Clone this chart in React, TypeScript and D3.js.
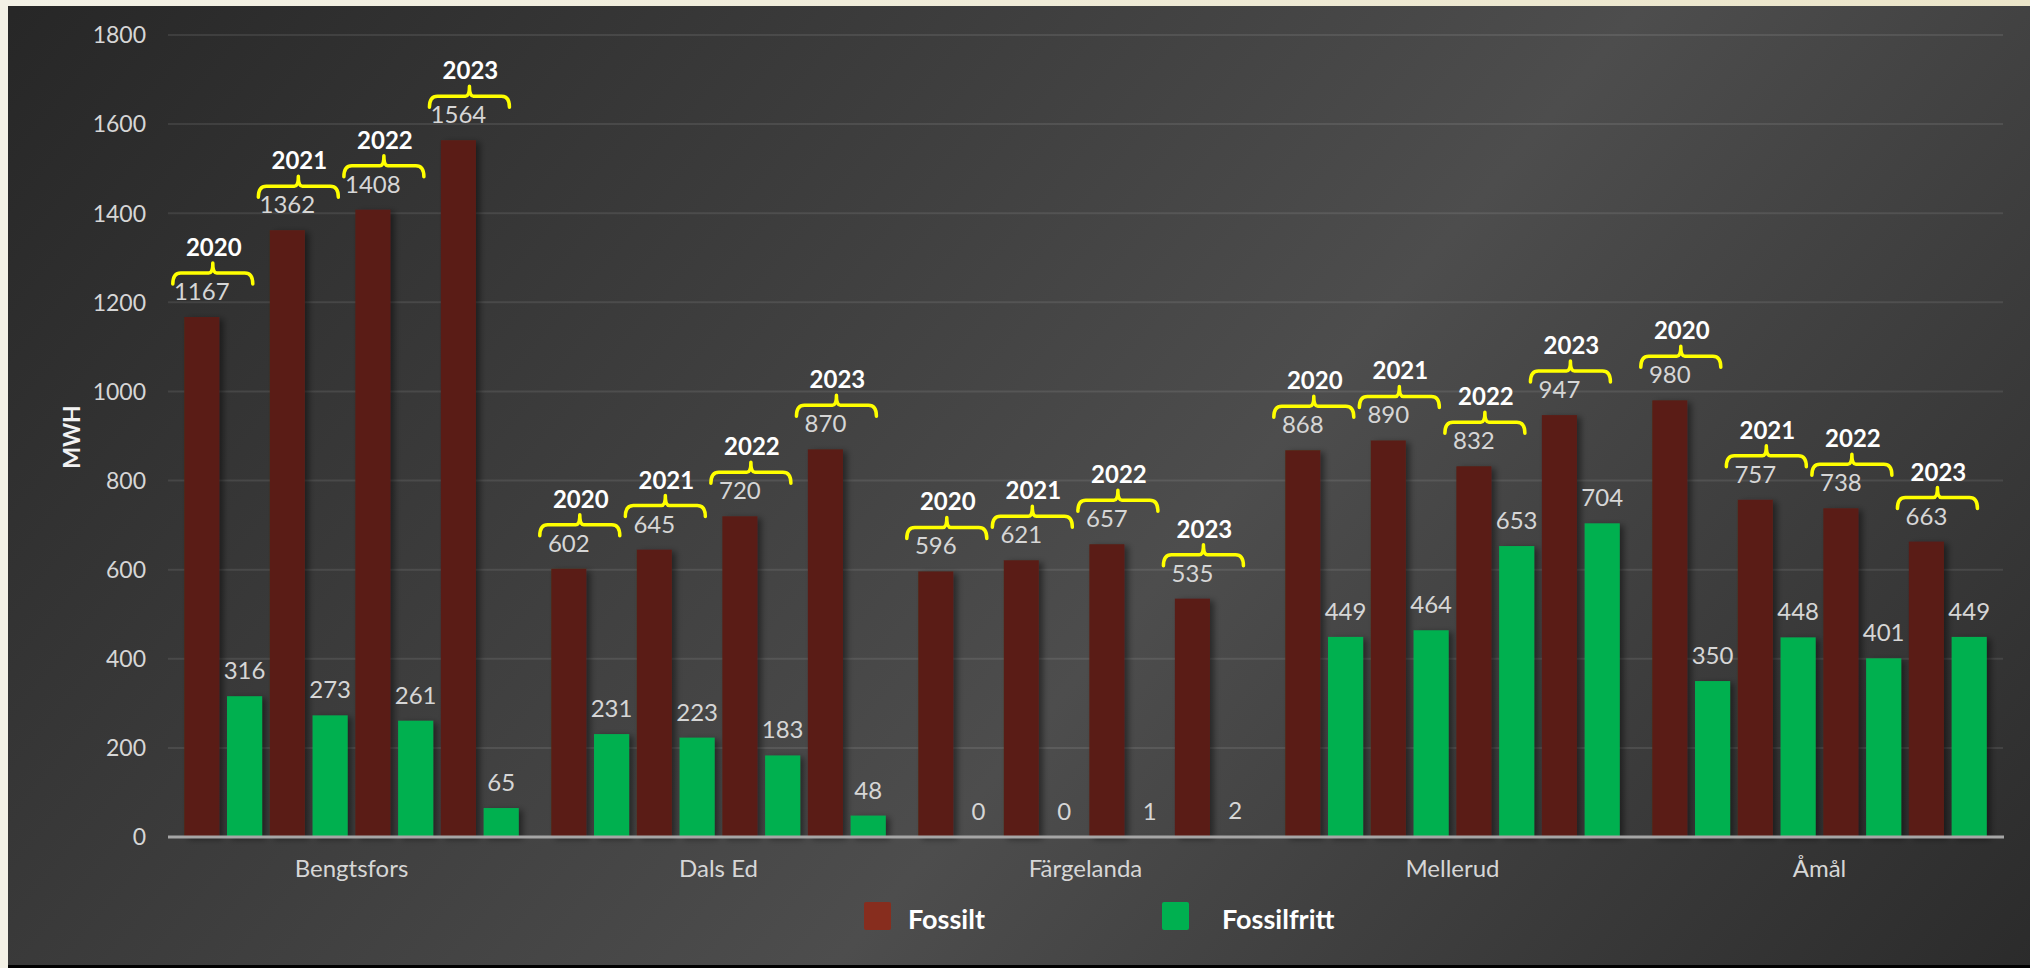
import React, { useEffect, useRef } from 'react';
import * as d3 from 'd3';

const municipalities = ['Bengtsfors', 'Dals Ed', 'Färgelanda', 'Mellerud', 'Åmål'];
const years = ['2020', '2021', '2022', '2023'];
const fossilt = [
  [1167, 1362, 1408, 1564],
  [602, 645, 720, 870],
  [596, 621, 657, 535],
  [868, 890, 832, 947],
  [980, 757, 738, 663],
];
const fossilfritt = [
  [316, 273, 261, 65],
  [231, 223, 183, 48],
  [0, 0, 1, 2],
  [449, 464, 653, 704],
  [350, 448, 401, 449],
];
const yTicks = [0, 200, 400, 600, 800, 1000, 1200, 1400, 1600, 1800];
const legendItems = ['Fossilt', 'Fossilfritt'];

const W = 2030;
const H = 968;
const BROWN = '#5a1f16';
const GREEN = '#00b050';
const LABEL = '#d6d6d6';
const FONT = 'Lato, "Open Sans", sans-serif';

const App = () => {
  const svgRef = useRef<SVGSVGElement>(null);

  useEffect(() => {
    const svg = d3.select(svgRef.current);
    svg.selectAll('*').remove();
    svg.attr('width', W).attr('height', H);

    const defs = svg.append('defs');
    const grad = defs.append('linearGradient')
      .attr('id', 'bg')
      .attr('gradientUnits', 'userSpaceOnUse')
      .attr('x1', 150).attr('y1', -150)
      .attr('x2', 2050).attr('y2', 1450);
    grad.append('stop').attr('offset', 0).attr('stop-color', '#272727');
    grad.append('stop').attr('offset', 0.5).attr('stop-color', '#4d4d4d');
    grad.append('stop').attr('offset', 1).attr('stop-color', '#1f1f1f');

    const top = defs.append('linearGradient').attr('id', 'cream');
    top.append('stop').attr('offset', 0).attr('stop-color', '#f3f1e6');
    top.append('stop').attr('offset', 1).attr('stop-color', '#ebe5c9');

    const shadow = defs.append('filter').attr('id', 'shadow')
      .attr('x', '-30%').attr('y', '-10%').attr('width', '160%').attr('height', '120%');
    shadow.append('feDropShadow')
      .attr('dx', 4).attr('dy', 2).attr('stdDeviation', 3)
      .attr('flood-color', '#000').attr('flood-opacity', 0.45);

    // page + panel
    svg.append('rect').attr('width', W).attr('height', H).attr('fill', 'url(#cream)');
    svg.append('rect').attr('x', 8).attr('y', 6).attr('width', W - 8).attr('height', H - 6).attr('fill', '#000');
    svg.append('rect').attr('x', 8).attr('y', 6).attr('width', W - 8).attr('height', 959).attr('fill', 'url(#bg)');

    const x0 = d3.scaleBand<string>().domain(municipalities).range([168, 2003]);
    const keys = years.flatMap(yr => [`F${yr}`, `G${yr}`]);
    const x1 = d3.scaleBand<string>().domain(keys).range([0, x0.bandwidth()])
      .paddingInner(0.18).paddingOuter(0.38);
    const y = d3.scaleLinear().domain([0, 1800]).range([837, 35]);

    // grid
    svg.append('g').selectAll('line')
      .data(yTicks.filter(t => t > 0))
      .enter().append('line')
      .attr('x1', 168).attr('x2', 2003)
      .attr('y1', d => y(d)).attr('y2', d => y(d))
      .attr('stroke', '#ffffff').attr('stroke-opacity', 0.09).attr('stroke-width', 2);

    // y tick labels
    svg.append('g').selectAll('text')
      .data(yTicks)
      .enter().append('text')
      .attr('x', 146).attr('y', d => y(d)).attr('dy', '0.36em')
      .attr('text-anchor', 'end')
      .attr('font-family', FONT).attr('font-size', 23).attr('fill', LABEL)
      .text(d => d);

    svg.append('text')
      .attr('transform', 'translate(80,437) rotate(-90)')
      .attr('text-anchor', 'middle')
      .attr('font-family', FONT).attr('font-weight', 700).attr('font-size', 23)
      .attr('fill', '#f2f2f2')
      .text('MWH');

    type Bar = { m: string; key: string; v: number; color: string; year: string; fossil: boolean };
    const bars: Bar[] = [];
    municipalities.forEach((m, i) => {
      years.forEach((yr, j) => {
        bars.push({ m, key: `F${yr}`, v: fossilt[i][j], color: BROWN, year: yr, fossil: true });
        bars.push({ m, key: `G${yr}`, v: fossilfritt[i][j], color: GREEN, year: yr, fossil: false });
      });
    });
    const cx = (d: Bar) => (x0(d.m) ?? 0) + (x1(d.key) ?? 0) + x1.bandwidth() / 2;

    svg.append('g').attr('filter', 'url(#shadow)').selectAll('rect')
      .data(bars)
      .enter().append('rect')
      .attr('x', d => (x0(d.m) ?? 0) + (x1(d.key) ?? 0))
      .attr('width', x1.bandwidth())
      .attr('y', d => y(d.v))
      .attr('height', d => y(0) - y(d.v))
      .attr('fill', d => d.color);

    // x axis line
    svg.append('line')
      .attr('x1', 168).attr('x2', 2004).attr('y1', y(0)).attr('y2', y(0))
      .attr('stroke', '#a6a6a6').attr('stroke-width', 3);

    // value labels
    svg.append('g').selectAll('text')
      .data(bars)
      .enter().append('text')
      .attr('x', cx)
      .attr('y', d => y(d.v) - 17)
      .attr('text-anchor', 'middle')
      .attr('font-family', FONT).attr('font-size', 24).attr('fill', LABEL)
      .text(d => d.v);

    // year braces over fossil bars
    const notes = svg.append('g').selectAll('g')
      .data(bars.filter(d => d.fossil))
      .enter().append('g')
      .attr('transform', d => `translate(${cx(d) + 11},${y(d.v) - 17 - 27})`);
    notes.append('path')
      .attr('d', 'M-40,11 Q-40,0 -32,0 L-4,0 Q0,0 0,-10 Q0,0 4,0 L32,0 Q40,0 40,11')
      .attr('fill', 'none').attr('stroke', '#ffff00').attr('stroke-width', 3.5)
      .attr('stroke-linecap', 'round').attr('stroke-linejoin', 'round');
    notes.append('text')
      .attr('x', 1).attr('y', -17)
      .attr('text-anchor', 'middle')
      .attr('font-family', FONT).attr('font-weight', 700).attr('font-size', 24)
      .attr('fill', '#ffffff')
      .text(d => d.year);

    // category labels
    svg.append('g').selectAll('text')
      .data(municipalities)
      .enter().append('text')
      .attr('x', d => (x0(d) ?? 0) + x0.bandwidth() / 2)
      .attr('y', 877)
      .attr('text-anchor', 'middle')
      .attr('font-family', FONT).attr('font-size', 24).attr('fill', LABEL)
      .text(d => d);

    // legend
    const legendX = [864, 1162];
    const legendColor = ['#872d1e', GREEN];
    const lg = svg.append('g').selectAll('g')
      .data(legendItems)
      .enter().append('g')
      .attr('transform', (_d, i) => `translate(${legendX[i]},902)`);
    lg.append('rect').attr('width', 27).attr('height', 28).attr('rx', 2)
      .attr('fill', (_d, i) => legendColor[i]);
    lg.append('text')
      .attr('x', (_d, i) => (i === 0 ? 44 : 60)).attr('y', 27)
      .attr('font-family', FONT).attr('font-weight', 700).attr('font-size', 27)
      .attr('fill', '#ffffff')
      .text(d => d);
  }, []);

  return (
    <div style={{ position: 'fixed', left: 0, top: 0 }}>
      <svg ref={svgRef} style={{ display: 'block' }}></svg>
    </div>
  );
};

export default App;
